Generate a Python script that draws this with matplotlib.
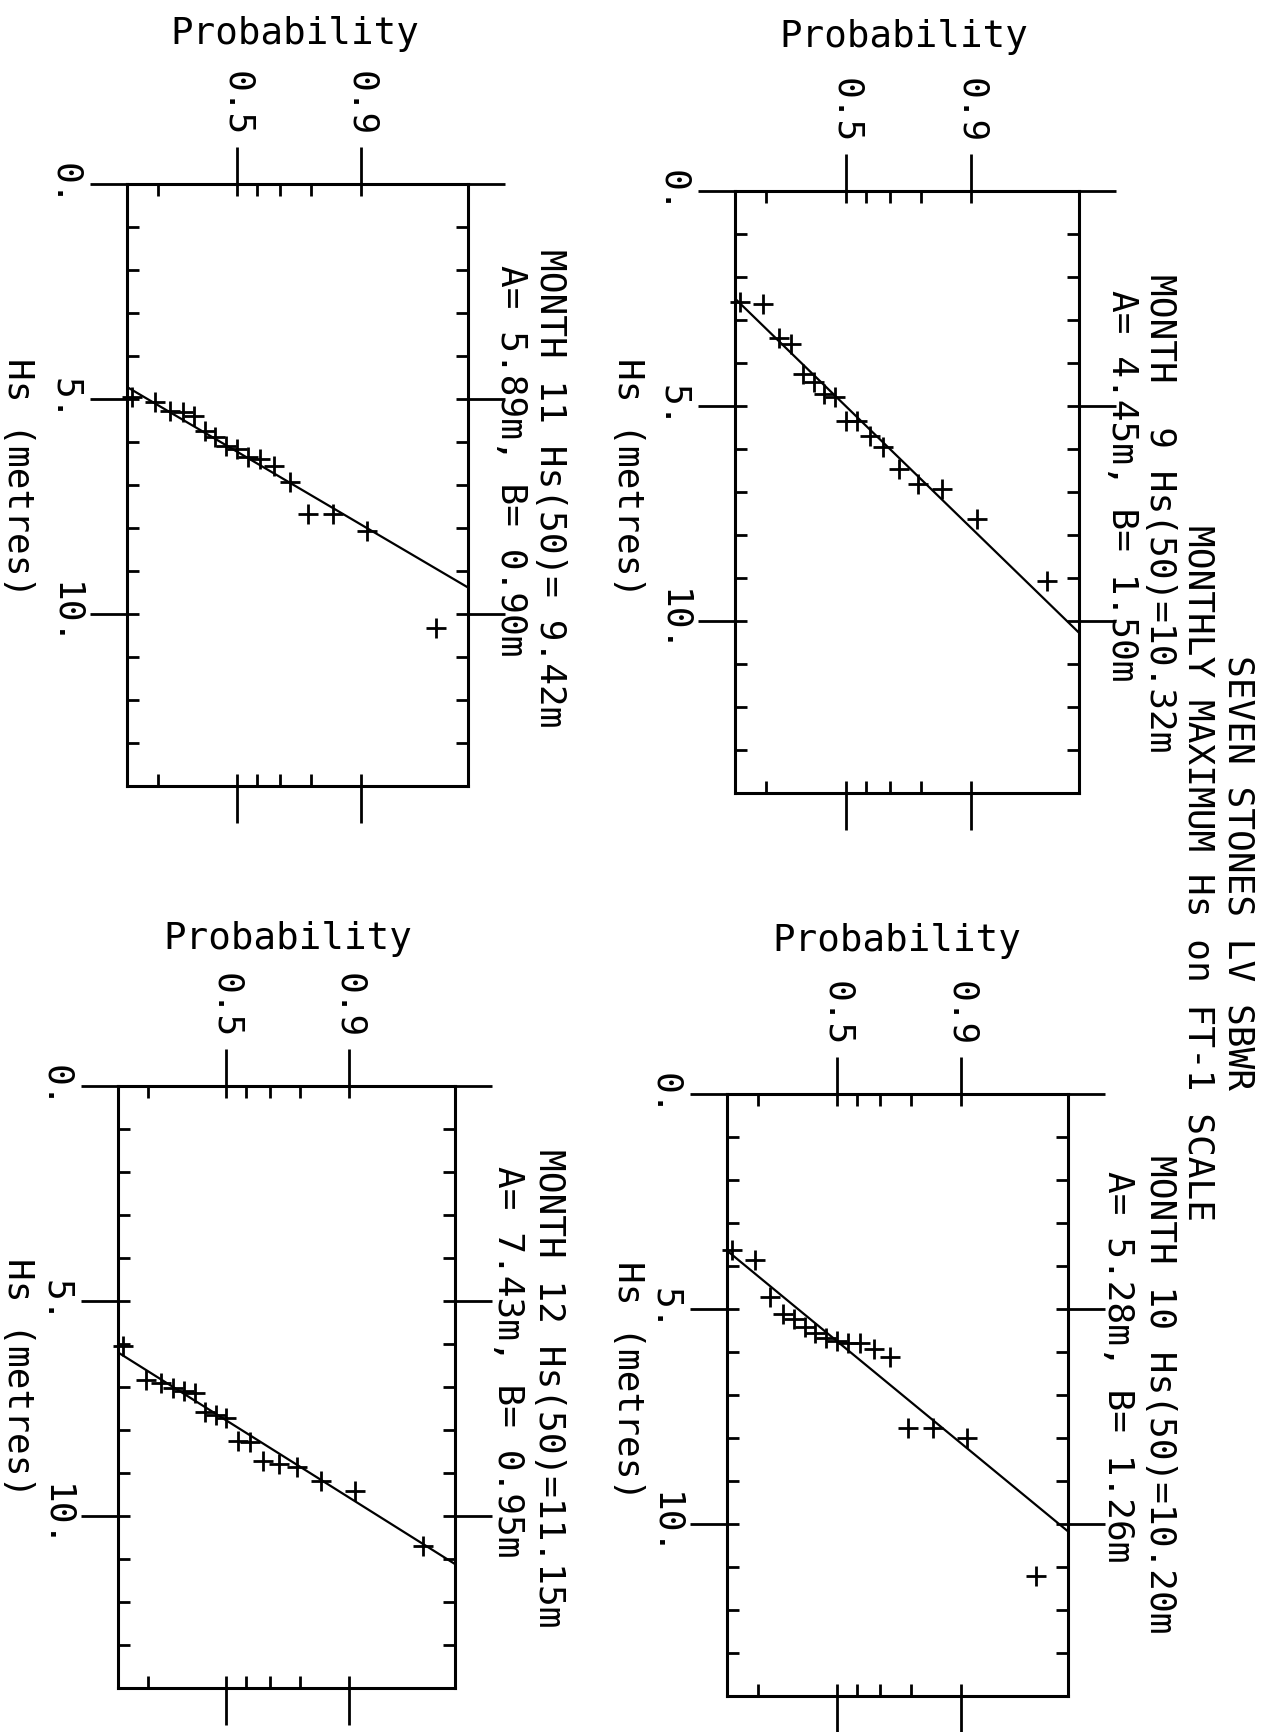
import numpy as np
import matplotlib
matplotlib.use("Agg")
import matplotlib.pyplot as plt
from matplotlib.ticker import FixedLocator, FixedFormatter, NullFormatter

# ---------------- data ----------------
months = [9, 11, 10, 12]
A_par = [4.45, 5.89, 5.28, 7.43]
B_par = [1.50, 0.90, 1.26, 0.95]
hs50 = [10.32, 9.42, 10.20, 11.15]

# plotting-position probabilities
prob = [0.033, 0.091, 0.150, 0.208, 0.266, 0.325, 0.383, 0.442, 0.500,
        0.558, 0.617, 0.675, 0.734, 0.792, 0.851, 0.909, 0.967]

hs_m9 = [2.59, 2.63, 3.43, 3.56, 4.26, 4.45, 4.72, 4.80, 5.34, 5.34,
         5.69, 5.96, 6.47, 6.81, 6.93, 7.63, 9.06]
hs_m11 = [4.96, 5.07, 5.27, 5.31, 5.39, 5.74, 5.89, 6.09, 6.16, 6.36,
          6.40, 6.55, 6.94, 7.68, 7.68, 8.07, 10.32]
hs_m10 = [3.63, 3.85, 4.73, 5.11, 5.23, 5.42, 5.55, 5.67, 5.74, 5.80,
          5.80, 5.93, 6.12, 7.76, 7.76, 8.01, 11.22]
hs_m12 = [6.05, 6.84, 6.90, 7.03, 7.09, 7.15, 7.59, 7.66, 7.72, 8.25,
          8.27, 8.73, 8.80, 8.86, 9.18, 9.43, 10.70]
hs_series = [hs_m9, hs_m11, hs_m10, hs_m12]

prob_lim = [0.0255, 0.9796]
hs_lim = [0, 14]
prob_major = [0.5, 0.9]
prob_major_labels = ["0.5", "0.9"]
prob_minor = [0.1, 0.5, 0.6, 0.7, 0.8, 0.9]
hs_major = [0, 5, 10]
hs_major_labels = ["0.", "5.", "10."]
hs_minor = list(range(0, 15))

title1 = "SEVEN STONES LV SBWR"
title2 = "MONTHLY MAXIMUM Hs on FT-1 SCALE"

# ---------------- layout (pixels) ----------------
W, H = 1272, 1733
boxes = [(735, 192, 1079, 794),   # month 9
         (127, 185, 468, 787),    # month 11
         (727, 1095, 1068, 1697), # month 10
         (118, 1087, 455, 1689)]  # month 12
line1_pos = [(1160, 274), (550, 249), (1160, 1155), (549, 1149)]
line2_pos = [(1122, 290), (511, 265), (1118, 1171), (508, 1166)]
hslab_pos = [(628, 478), (18, 478), (628, 1381), (18, 1378)]
problab_pos = [(904, 37), (295, 34), (897, 941), (288, 939)]

FONT = ["DejaVu Sans Mono"]
FS = 26
plt.rcParams["font.family"] = FONT


def fwd(p):
    p = np.clip(np.asarray(p, dtype=float), 1e-9, 1 - 1e-9)
    return -np.log(-np.log(p))


def inv(y):
    return np.exp(-np.exp(-np.asarray(y, dtype=float)))


fig = plt.figure(figsize=(W / 100, H / 100), dpi=100)
fig.patch.set_facecolor("white")

PX = 72.0 / 100.0  # points per pixel

for k in range(4):
    x0, y0, x1, y1 = boxes[k]
    ax = fig.add_axes([x0 / W, 1 - y1 / H, (x1 - x0) / W, (y1 - y0) / H])
    ax.set_xscale("function", functions=(fwd, inv))
    ax.set_xlim(prob_lim)
    ax.set_ylim(hs_lim[1], hs_lim[0])

    for s in ax.spines.values():
        s.set_linewidth(2.2)
        s.set_color("black")

    ax.xaxis.remove_overlapping_locs = False
    ax.yaxis.remove_overlapping_locs = False
    ax.xaxis.set_major_locator(FixedLocator(prob_major))
    ax.xaxis.set_major_formatter(FixedFormatter(prob_major_labels))
    ax.xaxis.set_minor_locator(FixedLocator(prob_minor))
    ax.xaxis.set_minor_formatter(NullFormatter())
    ax.yaxis.set_major_locator(FixedLocator(hs_major))
    ax.yaxis.set_major_formatter(FixedFormatter(hs_major_labels))
    ax.yaxis.set_minor_locator(FixedLocator(hs_minor))
    ax.yaxis.set_minor_formatter(NullFormatter())

    ax.tick_params(axis="both", which="major", direction="out",
                   length=37 * PX, width=2.0, color="black")
    ax.tick_params(axis="both", which="minor", direction="in",
                   length=12 * PX, width=2.0, color="black")
    ax.tick_params(axis="x", which="both", top=True, bottom=True,
                   labeltop=True, labelbottom=False)
    ax.tick_params(axis="y", which="both", left=True, right=True,
                   labelleft=True, labelright=False)
    ax.tick_params(axis="x", which="major", pad=12 * PX, labelsize=FS,
                   labelrotation=-90)
    ax.tick_params(axis="y", which="major", pad=8 * PX, labelsize=FS,
                   labelrotation=-90)
    for t in ax.get_yticklabels():
        t.set_verticalalignment("center")
        t.set_horizontalalignment("right")
    for t in ax.get_xticklabels():
        t.set_horizontalalignment("center")
        t.set_verticalalignment("bottom")

    # data points
    ax.plot(prob, hs_series[k], linestyle="none", marker="+",
            markersize=14, markeredgewidth=2.0, color="black", clip_on=False,
            zorder=3)
    # fitted FT-1 line  Hs = A + B * reduced variate
    yr = fwd(prob_lim)
    ax.plot(prob_lim, A_par[k] + B_par[k] * yr, color="black", lw=1.6)

    def axc(px, py):
        return (px - x0) / (x1 - x0), (y1 - py) / (y1 - y0)

    xa, ya = axc(*hslab_pos[k])
    ax.text(xa, ya, "Hs (metres)", transform=ax.transAxes, rotation=-90,
            ha="center", va="center", fontsize=FS)
    xa, ya = axc(*problab_pos[k])
    ax.text(xa, ya, "Probability", transform=ax.transAxes, rotation=0,
            ha="center", va="center", fontsize=FS + 1)

    t1 = f"MONTH {months[k]:2d} Hs(50)={hs50[k]:5.2f}m"
    t2 = f"A= {A_par[k]:.2f}m, B= {B_par[k]:.2f}m"
    xa, ya = axc(*line1_pos[k])
    ax.text(xa, ya, t1, transform=ax.transAxes, rotation=-90,
            ha="center", va="top", fontsize=FS, clip_on=False)
    xa, ya = axc(*line2_pos[k])
    ax.text(xa, ya, t2, transform=ax.transAxes, rotation=-90,
            ha="center", va="top", fontsize=FS, clip_on=False)

fig.text(1238 / W, 1 - 873 / H, title1, rotation=-90, ha="center",
         va="center", fontsize=FS)
fig.text(1199 / W, 1 - 873 / H, title2, rotation=-90, ha="center",
         va="center", fontsize=FS)

fig.savefig("out.png", dpi=100, facecolor="white")
